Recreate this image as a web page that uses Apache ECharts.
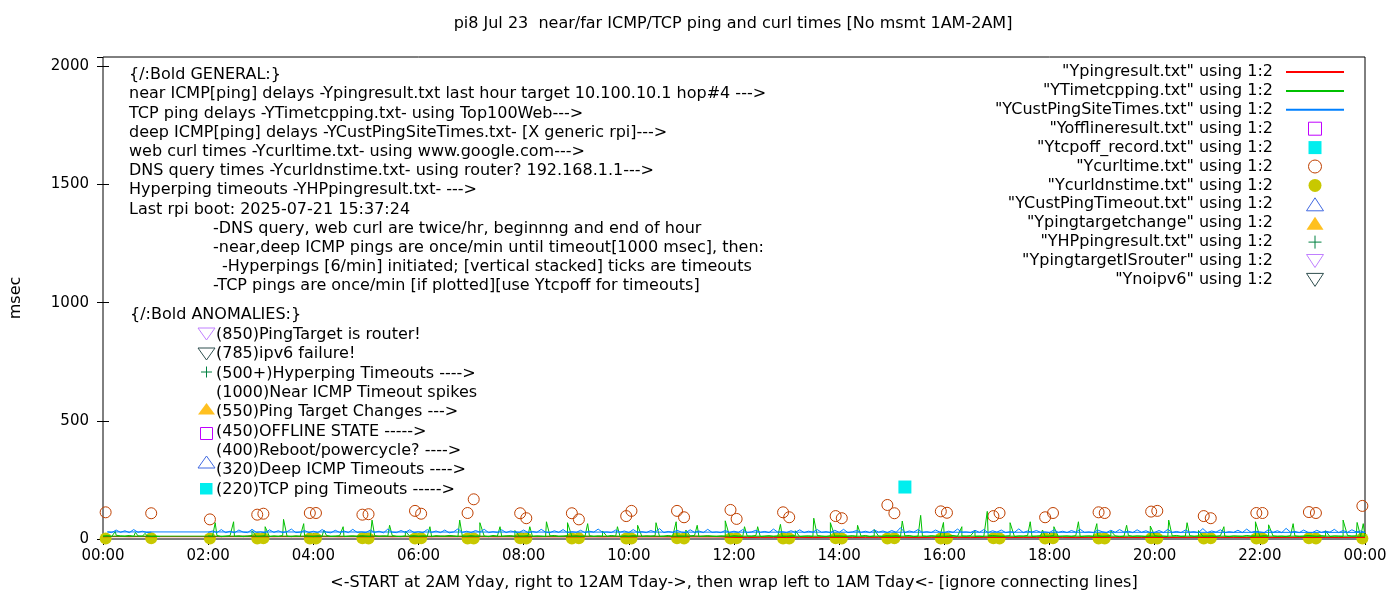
<!DOCTYPE html>
<html>
<head>
<meta charset="utf-8">
<script src="https://cdn.jsdelivr.net/npm/echarts@6/dist/echarts.min.js"></script>
<style>
  html, body { margin: 0; padding: 0; background: #fff; }
  #chart { width: 1400px; height: 600px; }
</style>
</head>
<body>
<div id="chart"></div>
<script>
// ---- values ----
var titleText = 'pi8 Jul 23  near/far ICMP/TCP ping and curl times [No msmt 1AM-2AM]';
var xName = '<-START at 2AM Yday, right to 12AM Tday->, then wrap left to 1AM Tday<- [ignore connecting lines]';
var xTickLabels = ['00:00', '02:00', '04:00', '06:00', '08:00', '10:00', '12:00',
  '14:00', '16:00', '18:00', '20:00', '22:00', '00:00'];
var yTickLabels = [0, 500, 1000, 1500, 2000];

// near ICMP (red), every 15 min from 02:00 to 24:00, then 00:00..01:00
var redDay = [
  11, 10, 11, 12,  11, 10, 11, 11,  12, 11, 10, 11,  11, 12, 10, 11,  11, 10, 12, 11,
  11, 11, 10, 12,  11, 10, 11, 11,  12, 11, 10, 11,  11, 12, 11, 10,  11, 12, 11, 10,
  7, 6, 7, 7,  6, 7, 6, 7,  7, 6, 7, 7,  6, 7, 6, 7,  7, 7, 6, 7,  7, 6, 7, 6,
  7, 7, 6, 7,  6, 7, 7, 6,  7, 6, 7, 7,  6, 7, 7, 6,  7, 6, 7, 7,  6, 7, 6, 7,
  7
];
var redWrap = [10, 11, 10, 11, 10];

// TCP ping (green), base every 5 min from 02:00 to 24:00, then 00:00..01:05
var greenDay = [
  13, 11, 15, 10, 12, 14, 11, 13, 10, 12, 15, 11,
  12, 14, 10, 13, 11, 15, 12, 10, 13, 11, 14, 12,
  10, 13, 12, 15, 11, 12, 14, 10, 12, 13, 11, 14,
  12, 10, 14, 11, 13, 12, 15, 11, 10, 13, 12, 14,
  11, 13, 12, 10, 14, 12, 11, 15, 13, 10, 12, 11,
  14, 11, 13, 12, 10, 15, 12, 11, 13, 14, 10, 12,
  12, 14, 11, 13, 12, 10, 13, 15, 11, 12, 14, 11,
  13, 10, 12, 14, 11, 13, 12, 11, 15, 12, 10, 13,
  11, 14, 12, 10, 13, 12, 14, 11, 12, 15, 11, 13,
  12, 11, 13, 15, 10, 12, 14, 12, 11, 13, 12, 10,
  14, 12, 11, 13, 12, 15, 10, 12, 14, 11, 13, 12,
  11, 13, 14, 10, 12, 13, 11, 15, 12, 10, 14, 12,
  13, 11, 12, 14, 11, 12, 15, 10, 13, 12, 11, 14,
  12, 14, 11, 13, 15, 10, 12, 13, 11, 14, 12, 11,
  10, 12, 15, 11, 13, 12, 14, 11, 12, 10, 13, 15,
  13, 11, 12, 14, 10, 13, 12, 15, 11, 12, 14, 11,
  12, 15, 11, 12, 13, 11, 14, 10, 12, 13, 11, 14,
  11, 12, 14, 13, 10, 12, 15, 11, 13, 12, 10, 13,
  14, 11, 12, 10, 13, 15, 11, 12, 14, 11, 13, 12,
  12, 13, 11, 14, 12, 10, 13, 12, 11, 15, 12, 13,
  11, 14, 12, 13, 11, 12, 10, 14, 13, 11, 12, 15,
  13, 11, 14, 12, 10, 13, 12, 11, 15, 12, 13, 11,
  12
];
var greenWrap = [12, 14, 11, 16, 13, 12, 15, 11, 13, 12, 14, 11, 12, 10];
var greenSpikeTimes = ['00:14', '00:37', '00:48',
  '02:08', '02:29', '02:50', '03:05', '03:26', '03:49', '04:12', '04:34', '05:07', '05:27', '05:45',
  '06:13', '06:47', '07:10', '07:33', '07:50', '08:07', '08:26', '08:50', '09:13', '09:30', '09:47',
  '10:10', '10:31', '10:54', '11:05', '11:18', '11:50', '12:12', '12:27', '12:53', '13:10', '13:31',
  '13:50', '14:21', '14:40', '15:12', '15:33', '15:59', '16:20', '16:35', '16:49', '17:15', '17:38',
  '17:52', '18:05', '18:33', '18:54', '19:10', '19:28', '19:55', '20:16', '20:37', '20:50', '21:19',
  '21:55', '22:10', '22:38', '23:15', '23:35', '23:51', '23:58'];
var greenSpikeValues = [32, 28, 24,
  69, 73, 35, 52, 83, 65, 38, 52, 80, 58, 33,
  52, 80, 69, 52, 36, 52, 73, 69, 65, 34, 52,
  58, 69, 73, 38, 58, 77, 52, 52, 62, 35, 88,
  69, 58, 40, 76, 100, 70, 52, 36, 117, 69, 73,
  38, 52, 73, 65, 34, 58, 55, 80, 69, 36, 52,
  73, 60, 65, 35, 80, 70, 65];

// deep ICMP (blue), every 5 min from 02:00 to 24:00, then 00:05..00:55
var blueDay = [
  28, 34, 27, 40, 27, 33, 26, 38, 29, 27, 41, 28,
  30, 26, 39, 28, 35, 27, 31, 42, 27, 29, 36, 27,
  33, 27, 40, 29, 26, 37, 28, 34, 27, 41, 28, 30,
  27, 38, 28, 33, 26, 42, 29, 27, 36, 28, 39, 27,
  31, 27, 40, 28, 34, 27, 38, 26, 30, 43, 28, 33,
  27, 36, 29, 41, 27, 31, 28, 39, 27, 34, 30, 28,
  38, 27, 32, 28, 41, 29, 27, 35, 28, 40, 27, 31,
  28, 37, 27, 33, 29, 42, 28, 30, 27, 38, 29, 34,
  27, 40, 28, 31, 27, 36, 29, 44, 27, 32, 28, 37,
  29, 27, 39, 28, 34, 27, 41, 28, 30, 27, 36, 28,
  33, 28, 40, 27, 30, 37, 28, 32, 27, 42, 29, 31,
  27, 35, 28, 39, 27, 33, 29, 40, 28, 31, 27, 37,
  28, 41, 27, 30, 36, 28, 33, 27, 39, 29, 34, 27,
  36, 28, 48, 27, 34, 29, 40, 28, 31, 27, 38, 29,
  27, 33, 28, 42, 29, 30, 27, 37, 28, 40, 27, 35,
  29, 38, 27, 31, 28, 43, 27, 34, 29, 36, 28, 30,
  27, 39, 28, 33, 27, 36, 29, 41, 28, 30, 27, 38,
  31, 27, 37, 28, 40, 29, 33, 27, 39, 28, 35, 27,
  28, 36, 27, 41, 28, 32, 27, 38, 29, 31, 27, 44,
  27, 34, 29, 39, 27, 31, 28, 37, 27, 42, 28, 33,
  30, 27, 40, 28, 35, 27, 45, 29, 32, 27, 38, 28,
  27, 37, 28, 33, 29, 41, 27, 36, 28, 39, 30, 34,
  28
];
var blueWrap = [30, 27, 38, 28, 35, 27, 40, 28, 33, 27, 29];

// web curl times and DNS query times (same sample times)
var curlTimes = ['00:03', '00:55', '02:02', '02:56', '03:03', '03:56', '04:03', '04:56', '05:03',
  '05:56', '06:03', '06:56', '07:03', '07:56', '08:03', '08:55', '09:03', '09:57', '10:03',
  '10:55', '11:03', '11:56', '12:03', '12:56', '13:03', '13:56', '14:03', '14:55', '15:03',
  '15:56', '16:03', '16:56', '17:03', '17:55', '18:04', '18:56', '19:03', '19:56', '20:03',
  '20:56', '21:04', '21:56', '22:03', '22:56', '23:04', '23:57'];
var curlValues = [113, 109, 83, 103, 107, 110, 110, 103, 105,
  119, 107, 110, 168, 109, 88, 109, 83, 97, 119,
  119, 92, 123, 85, 113, 92, 97, 88, 144, 109,
  117, 111, 97, 110, 92, 110, 113, 110, 116, 119,
  97, 88, 110, 110, 114, 110, 140];
var dnsValues = [2, 3, 2, 2, 3, 2, 2, 3, 2,
  2, 3, 2, 2, 3, 2, 2, 3, 2, 2,
  3, 2, 2, 3, 2, 2, 3, 2, 2, 3,
  2, 2, 3, 2, 2, 3, 2, 2, 3, 2,
  2, 3, 2, 2, 3, 2, 2];

// TCP ping timeout record
var tcpOffTimes = ['15:15'];
var tcpOffValues = [220];

var generalLines = [
  '{/:Bold GENERAL:}',
  'near ICMP[ping] delays -Ypingresult.txt last hour target 10.100.10.1 hop#4 --->',
  'TCP ping delays -YTimetcpping.txt- using Top100Web--->',
  'deep ICMP[ping] delays -YCustPingSiteTimes.txt- [X generic rpi]--->',
  'web curl times -Ycurltime.txt- using www.google.com--->',
  'DNS query times -Ycurldnstime.txt- using router? 192.168.1.1--->',
  'Hyperping timeouts -YHPpingresult.txt- --->',
  'Last rpi boot: 2025-07-21 15:37:24',
  '-DNS query, web curl are twice/hr, beginnng and end of hour',
  '-near,deep ICMP pings are once/min until timeout[1000 msec], then:',
  '  -Hyperpings [6/min] initiated; [vertical stacked] ticks are timeouts',
  '-TCP pings are once/min [if plotted][use Ytcpoff for timeouts]'
];
var anomalyLines = [
  '(850)PingTarget is router!',
  '(785)ipv6 failure!',
  '(500+)Hyperping Timeouts ---->',
  '(1000)Near ICMP Timeout spikes',
  '(550)Ping Target Changes --->',
  '(450)OFFLINE STATE ----->',
  '(400)Reboot/powercycle? ---->',
  '(320)Deep ICMP Timeouts ---->',
  '(220)TCP ping Timeouts ----->'
];

// ---- helpers ----
var FONT_FAMILY = 'DejaVu Sans';
var FONT = '16px "DejaVu Sans"';

function hm(s) {
  var p = s.split(':');
  return +p[0] + (+p[1]) / 60;
}
function stepped(startH, stepMin, vals) {
  return vals.map(function (v, i) { return [startH + i * stepMin / 60, v]; });
}
function pairs(times, vals) {
  return times.map(function (t, i) { return [hm(t), vals[i]]; });
}
function byTime(a, b) { return a[0] - b[0]; }

var redData = stepped(2, 15, redDay).concat(stepped(0, 15, redWrap));

var spikes = pairs(greenSpikeTimes, greenSpikeValues);
var greenA = stepped(2, 5, greenDay).concat(spikes.filter(function (p) { return p[0] >= 2; })).sort(byTime);
var greenB = stepped(0, 5, greenWrap).concat(spikes.filter(function (p) { return p[0] < 2; })).sort(byTime);
var greenData = greenA.concat(greenB);

var blueData = stepped(2, 5, blueDay).concat(stepped(5 / 60, 5, blueWrap));

// gnuplot point shapes as paths so the legend keeps their aspect
var squarePath = 'path://M0,0 L12,0 L12,12 L0,12 Z';
var upTri = 'path://M0,13 L17,13 L8.5,0 Z';
var downTri = 'path://M0,0 L17,0 L8.5,13 Z';
var plusPath = 'path://M6,0 L6,12 M0,6 L12,6';

function lineSeries(name, color, data) {
  return {
    name: name, type: 'line', data: data, symbol: 'none',
    lineStyle: { color: color, width: 1 }, itemStyle: { color: color },
    animation: false
  };
}
function pointSeries(name, symbol, size, fill, stroke, data) {
  return {
    name: name, type: 'scatter', data: data, symbol: symbol, symbolSize: size,
    itemStyle: { color: fill, borderColor: stroke, borderWidth: stroke ? 1 : 0, opacity: 1 },
    animation: false
  };
}

var series = [
  lineSeries('"Ypingresult.txt" using 1:2', '#ff0000', redData),
  lineSeries('"YTimetcpping.txt" using 1:2', '#00c000', greenData),
  lineSeries('"YCustPingSiteTimes.txt" using 1:2', '#0080ff', blueData),
  pointSeries('"Yofflineresult.txt" using 1:2', squarePath, 12, 'transparent', '#c000ff', []),
  pointSeries('"Ytcpoff_record.txt" using 1:2', squarePath, 13, '#00eeee', null, pairs(tcpOffTimes, tcpOffValues)),
  pointSeries('"Ycurltime.txt" using 1:2', 'circle', 11, 'transparent', '#c04000', pairs(curlTimes, curlValues)),
  pointSeries('"Ycurldnstime.txt" using 1:2', 'circle', 12, '#c8c800', null, pairs(curlTimes, dnsValues)),
  pointSeries('"YCustPingTimeout.txt" using 1:2', upTri, [17, 13], 'transparent', '#4169e1', []),
  pointSeries('"Ypingtargetchange" using 1:2', upTri, [17, 13], '#ffc020', null, []),
  pointSeries('"YHPpingresult.txt" using 1:2', plusPath, 12, 'transparent', '#008040', []),
  pointSeries('"YpingtargetISrouter" using 1:2', downTri, [17, 13], 'transparent', '#c080ff', []),
  pointSeries('"Ynoipv6" using 1:2', downTri, [17, 13], 'transparent', '#2f4f4f', [])
];

// annotation text blocks (gnuplot labels)
var graphics = [];
generalLines.forEach(function (t, i) {
  var x = i < 8 ? 129 : 213;
  if (t.indexOf('  -') === 0) { x = 222; t = t.slice(2); }
  graphics.push({ type: 'text', x: x, y: 75 + i * 19.2,
    style: { text: t, font: FONT, fill: '#000', verticalAlign: 'middle' } });
});
graphics.push({ type: 'text', x: 130, y: 315,
  style: { text: '{/:Bold ANOMALIES:}', font: FONT, fill: '#000', verticalAlign: 'middle' } });
anomalyLines.forEach(function (t, i) {
  graphics.push({ type: 'text', x: 216, y: 335 + i * 19.3,
    style: { text: t, font: FONT, fill: '#000', verticalAlign: 'middle' } });
});
// key symbols beside the anomaly lines
graphics.push(
  { type: 'polygon', shape: { points: [[198, 328], [215, 328], [206.5, 340]] }, style: { fill: 'none', stroke: '#c080ff', lineWidth: 1 } },
  { type: 'polygon', shape: { points: [[198, 348], [215, 348], [206.5, 360]] }, style: { fill: 'none', stroke: '#2f4f4f', lineWidth: 1 } },
  { type: 'line', shape: { x1: 201, y1: 372, x2: 212, y2: 372 }, style: { stroke: '#008040', lineWidth: 1 } },
  { type: 'line', shape: { x1: 206.5, y1: 366.5, x2: 206.5, y2: 377.5 }, style: { stroke: '#008040', lineWidth: 1 } },
  { type: 'polygon', shape: { points: [[198, 414.5], [215, 414.5], [206.5, 403]] }, style: { fill: '#ffc020' } },
  { type: 'rect', shape: { x: 200.5, y: 427.5, width: 12, height: 12 }, style: { fill: 'none', stroke: '#c000ff', lineWidth: 1 } },
  { type: 'polygon', shape: { points: [[198, 468], [215, 468], [206.5, 456]] }, style: { fill: 'none', stroke: '#4169e1', lineWidth: 1 } },
  { type: 'rect', shape: { x: 200, y: 483, width: 12.5, height: 11.5 }, style: { fill: '#00eeee' } }
);

// legend entries: hide the middle symbol that ECharts puts on line samples
var legendData = series.map(function (s) {
  if (s.type === 'line') return { name: s.name, itemStyle: { opacity: 0 } };
  return { name: s.name };
});

var tickStyle = { color: '#000', width: 1 };
var option = {
  backgroundColor: '#fff',
  animation: false,
  title: {
    text: titleText, left: 733, top: 16, textAlign: 'center', padding: 0,
    textStyle: { fontFamily: FONT_FAMILY, fontSize: 16, fontWeight: 'normal', color: '#000' }
  },
  grid: { left: 101, right: 35, top: 57, bottom: 61, show: true, borderColor: '#000', borderWidth: 1 },
  legend: {
    orient: 'vertical', align: 'right', right: 55, top: 64, padding: 0,
    itemWidth: 58, itemHeight: 13, itemGap: 2.9, selectedMode: false,
    textStyle: { fontFamily: FONT_FAMILY, fontSize: 16, color: '#000', lineHeight: 14, padding: [0, 8, 0, 0] },
    itemStyle: { borderWidth: 1 },
    data: legendData
  },
  xAxis: [{
    type: 'value', min: 0, max: 24, interval: 2,
    name: xName, nameLocation: 'middle', nameGap: 36,
    nameTextStyle: { fontFamily: FONT_FAMILY, fontSize: 16, color: '#000' },
    axisLine: { show: false },
    axisTick: { inside: true, length: 6, lineStyle: tickStyle },
    minorTick: { show: true, splitNumber: 2, length: 3, lineStyle: tickStyle },
    splitLine: { show: false },
    axisLabel: {
      margin: 10, fontFamily: FONT_FAMILY, fontSize: 15, color: '#000',
      formatter: function (v) { return xTickLabels[Math.round(v / 2)]; }
    }
  }, {
    type: 'value', position: 'top', min: 0, max: 24, interval: 2,
    axisLine: { show: false }, axisLabel: { show: false }, splitLine: { show: false },
    axisTick: { inside: true, length: 6, lineStyle: tickStyle },
    minorTick: { show: true, splitNumber: 2, length: 3, lineStyle: tickStyle }
  }],
  yAxis: [{
    type: 'value', min: 0, max: 2040, interval: 500,
    name: 'msec', nameLocation: 'middle', nameGap: 79, nameRotate: 90,
    nameTextStyle: { fontFamily: FONT_FAMILY, fontSize: 16, color: '#000' },
    axisLine: { show: false },
    axisTick: { inside: true, length: 6, lineStyle: tickStyle },
    splitLine: { show: false },
    axisLabel: {
      margin: 14, fontFamily: FONT_FAMILY, fontSize: 15, color: '#000', showMaxLabel: false,
      formatter: function (v) { return yTickLabels.indexOf(v) >= 0 ? String(v) : ''; }
    }
  }, {
    type: 'value', position: 'right', min: 0, max: 2040, interval: 500,
    axisLine: { show: false }, axisLabel: { show: false }, splitLine: { show: false },
    axisTick: { inside: true, length: 6, lineStyle: tickStyle }
  }],
  graphic: graphics,
  series: series
};

var myChart = echarts.init(document.getElementById('chart'));
myChart.setOption(option);
</script>
</body>
</html>
